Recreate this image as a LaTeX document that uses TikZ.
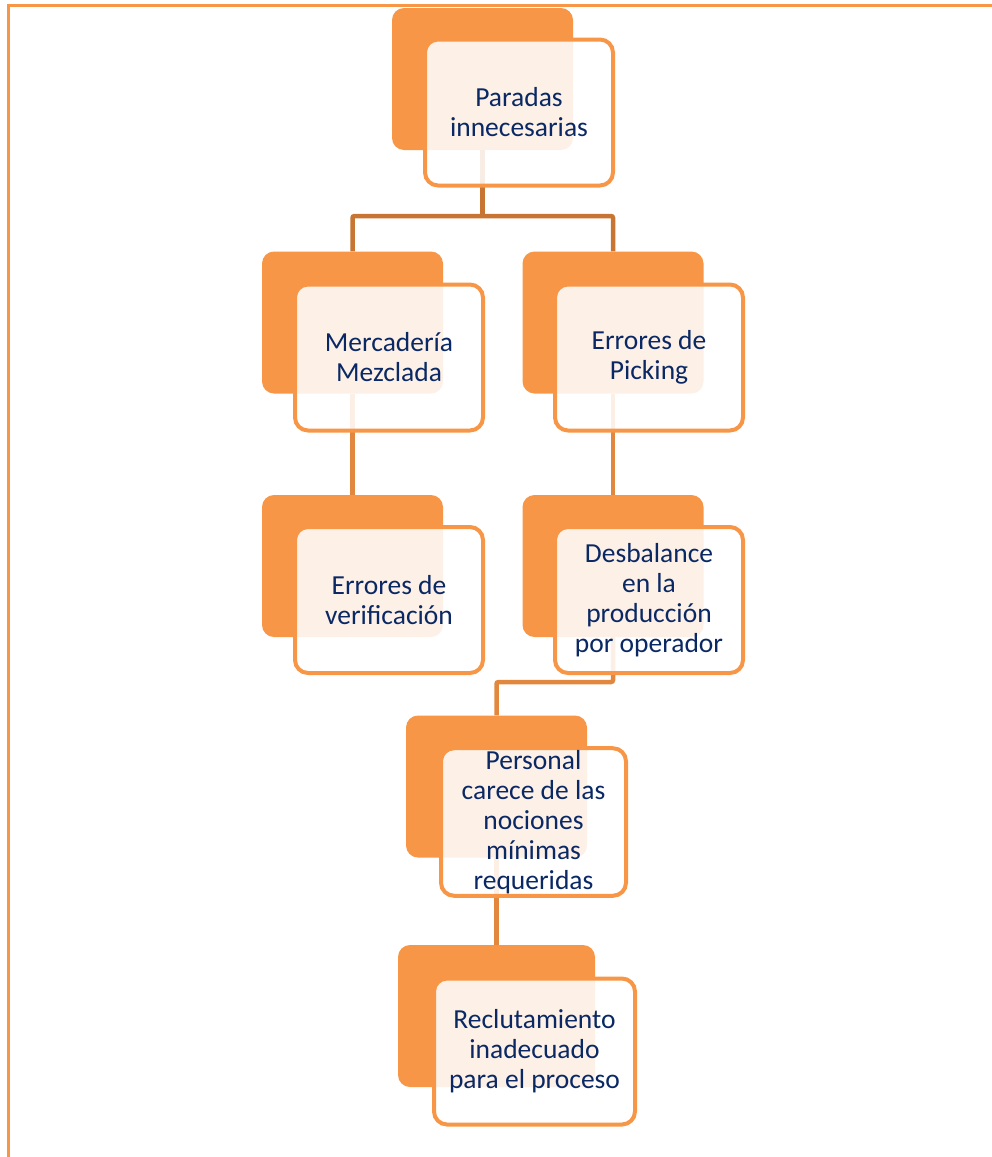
\documentclass[tikz,border=0pt]{standalone}
\usepackage{fontspec}
\setmainfont{Carlito}
\usetikzlibrary{calc}
\definecolor{boxorange}{RGB}{247,150,70}
\definecolor{linktop}{RGB}{200,117,51}
\definecolor{linksub}{RGB}{226,135,62}
\definecolor{navytext}{RGB}{10,40,100}
\tikzset{
  backbox/.style={rectangle, rounded corners=12pt, fill=boxorange, draw=none,
    minimum width=181pt, minimum height=142pt, inner sep=0pt},
  frontbox/.style={rectangle, rounded corners=13pt, draw=boxorange, line width=4pt,
    fill=white, fill opacity=0.87, text opacity=1, text=navytext, align=center,
    minimum width=188pt, minimum height=146pt, inner sep=2pt,
    font=\fontsize{27.5}{30}\selectfont},
  toplink/.style={draw=linktop, line width=4.5pt, rounded corners=2pt},
  sublink/.style={draw=linksub, line width=4.5pt, rounded corners=2pt},
  frameline/.style={draw=boxorange, line width=3pt}
}
\begin{document}
\begin{tikzpicture}[x=1pt,y=-1pt]
\useasboundingbox (0,0) rectangle (992,1157);
% page frame (only top and left edges fall inside the picture)
\coordinate (fa) at (8,1160);
\coordinate (fb) at (8,5);
\coordinate (fc) at (995,5);
\draw[frameline] (fa) -- (fb) -- (fc);

% back (filled) boxes
\node[backbox] (b1) at (482.5,79) {};
\node[backbox] (b2) at (352.5,322.5) {};
\node[backbox] (b3) at (613,322.5) {};
\node[backbox] (b4) at (352.5,566) {};
\node[backbox] (b5) at (613,566) {};
\node[backbox] (b6) at (496.5,786.5) {};
\node[backbox, minimum width=197pt] (b7) at (496.5,1016) {};

% connectors
\coordinate (j1) at (482.5,216);
\coordinate (j2) at (496.5,682);
\draw[toplink] (b1.south) -- (j1);
\draw[toplink] (b2.north) |- (j1) -| (b3.north);
\draw[sublink] (b2.south) -- (b4.north);
\draw[sublink] (b3.south) -- (b5.north);
\draw[sublink] (b5.south) |- (j2) -- (b6.north);
\draw[sublink] (b6.south) -- (b7.north);

% front (outlined) boxes with the texts
\node[frontbox] (f1) at (519,112.5) {Paradas\\innecesarias};
\node[frontbox] (f2) at (389,357.5) {Mercadería\\Mezclada};
\node[frontbox] (f3) at (649,357.5) {Errores de\\Picking};
\node[frontbox] (f4) at (389,600) {Errores de\\verificación};
\node[frontbox] (f5) at (649,600) {Desbalance\\en la\\producción\\por operador};
\node[frontbox, minimum width=185pt] (f6) at (533.5,822) {Personal\\carece de las\\nociones\\mínimas\\requeridas};
\node[frontbox, minimum width=201pt] (f7) at (534.5,1051.5) {Reclutamiento\\inadecuado\\para el proceso};
\end{tikzpicture}
\end{document}
